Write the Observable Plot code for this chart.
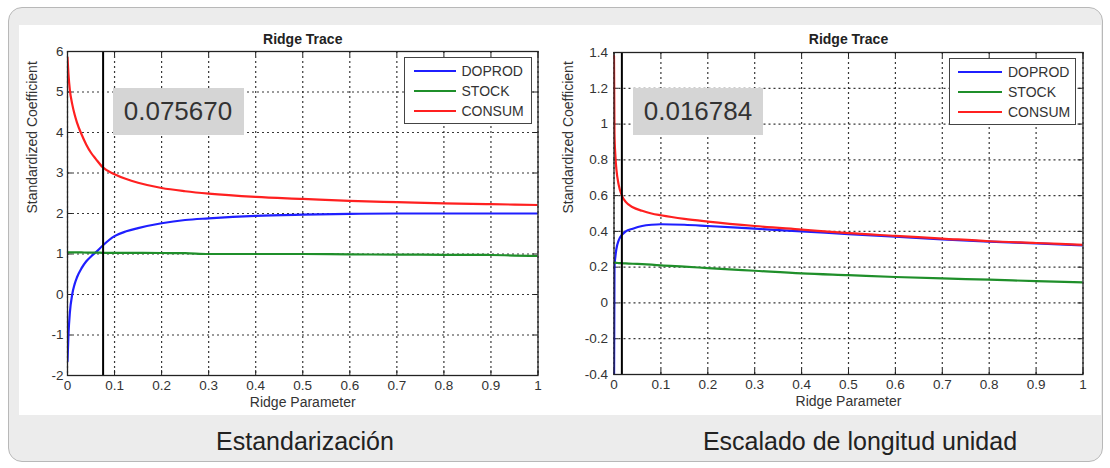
<!DOCTYPE html>
<html>
<head>
<meta charset="utf-8">
<script src="https://cdn.jsdelivr.net/npm/d3@7"></script>
<script src="https://cdn.jsdelivr.net/npm/@observablehq/plot@0.6"></script>
<style>
  html, body { margin: 0; padding: 0; background: #fff; }
  body { width: 1110px; height: 468px; position: relative; overflow: hidden;
         font-family: "Liberation Sans", Arial, Helvetica, sans-serif; }
  .abs { position: absolute; }
  .outer { left: 8px; top: 7px; width: 1095px; height: 455px; box-sizing: border-box;
           border: 1px solid #b8b8b8; border-radius: 14px; background: #ececec; }
  .band { left: 19px; top: 25px; width: 1082px; height: 390px; background: #fff; }
  .panel { top: 25px; }
  .valbox { background: #d5d5d5; color: #333; font-size: 26px; display: flex;
            align-items: center; justify-content: center; }
  .legend { background: #fff; border: 1px solid #444; box-sizing: border-box; }
  .legrow { position: absolute; left: 0; height: 16px; display: flex; align-items: center;
            font-size: 14px; color: #333; }
  .legline { height: 2px; margin-right: 6px; }
  .caption { font-size: 25px; line-height: 25px; color: #222; text-align: center; width: 500px; }
</style>
</head>
<body>
<div class="abs outer"></div>
<div class="abs band"></div>
<div id="root"></div>
<script>
// ---------------- data ----------------
const seriesNames  = ["DOPROD", "STOCK", "CONSUM"];
const seriesColors = ["#1f1fff", "#1f8f2a", "#ff2020"];
const xTicks = [0, 0.1, 0.2, 0.3, 0.4, 0.5, 0.6, 0.7, 0.8, 0.9, 1];

// Panel 1: Estandarización
const kStd = 0.075670;
const yTicksStd = [-2, -1, 0, 1, 2, 3, 4, 5, 6];
const lambdaStd = [0, 0.002, 0.005, 0.01, 0.015, 0.02, 0.03, 0.04, 0.05, 0.06, 0.075, 0.1, 0.125, 0.15, 0.2, 0.25, 0.3, 0.4, 0.5, 0.6, 0.7, 0.8, 0.9, 1];
const doprodStd = [-1.65, -1.0, -0.45, 0.0, 0.25, 0.42, 0.65, 0.82, 0.94, 1.04, 1.21, 1.44, 1.56, 1.64, 1.76, 1.84, 1.88, 1.94, 1.97, 1.99, 2.0, 2.0, 2.0, 2.0];
const stockStd  = [1.04, 1.04, 1.04, 1.04, 1.04, 1.04, 1.04, 1.035, 1.035, 1.035, 1.03, 1.03, 1.03, 1.03, 1.025, 1.02, 1.0, 1.0, 1.0, 0.99, 0.985, 0.98, 0.975, 0.95];
const consumStd = [5.85, 5.45, 5.05, 4.7, 4.45, 4.25, 3.95, 3.7, 3.5, 3.35, 3.14, 2.97, 2.85, 2.76, 2.63, 2.55, 2.49, 2.41, 2.36, 2.31, 2.28, 2.25, 2.23, 2.21];

// Panel 2: Escalado de longitud unidad
const kUnit = 0.016784;
const yTicksUnit = [-0.4, -0.2, 0, 0.2, 0.4, 0.6, 0.8, 1, 1.2, 1.4];
const lambdaUnit = [0, 0.001, 0.003, 0.005, 0.01, 0.0168, 0.025, 0.04, 0.06, 0.08, 0.1, 0.15, 0.2, 0.3, 0.4, 0.5, 0.6, 0.7, 0.8, 0.9, 1];
const doprodUnit = [-0.5, 0.2, 0.26, 0.3, 0.35, 0.38, 0.4, 0.415, 0.43, 0.437, 0.44, 0.437, 0.43, 0.415, 0.4, 0.385, 0.37, 0.355, 0.343, 0.333, 0.322];
const stockUnit  = [0.225, 0.225, 0.225, 0.224, 0.223, 0.222, 0.221, 0.219, 0.217, 0.214, 0.21, 0.203, 0.195, 0.18, 0.165, 0.155, 0.145, 0.137, 0.13, 0.122, 0.115];
const consumUnit = [1.38, 0.95, 0.82, 0.75, 0.66, 0.6, 0.565, 0.535, 0.515, 0.5, 0.49, 0.47, 0.455, 0.43, 0.41, 0.39, 0.375, 0.36, 0.345, 0.335, 0.325];

const captions = ["Estandarización", "Escalado de longitud unidad"];
const titleText = "Ridge Trace";
const xLabel = "Ridge Parameter";
const yLabel = "Standardized Coefficient";

// ---------------- drawing ----------------
const fmt = d => String(Math.round(d * 10) / 10);
const root = document.getElementById("root");

function panel(cfg) {
  const rows = [];
  cfg.xs.forEach((x, i) => {
    rows.push({x, y: cfg.dop[i], s: seriesNames[0]});
    rows.push({x, y: cfg.stk[i], s: seriesNames[1]});
    rows.push({x, y: cfg.con[i], s: seriesNames[2]});
  });
  const innerH = cfg.height - cfg.mT - cfg.mB;
  const innerW = cfg.width - cfg.mL - cfg.mR;
  const grid = {stroke: "#222", strokeOpacity: 0.9, strokeDasharray: "2,3", strokeWidth: 1.2};
  const svg = Plot.plot({
    width: cfg.width, height: cfg.height,
    marginLeft: cfg.mL, marginRight: cfg.mR, marginTop: cfg.mT, marginBottom: cfg.mB,
    style: {background: "transparent", fontFamily: "'Liberation Sans', Arial, sans-serif", fontSize: "13px", color: "#333", overflow: "visible"},
    x: {domain: [0, 1]},
    y: {domain: [cfg.yTicks[0], cfg.yTicks[cfg.yTicks.length - 1]]},
    color: {domain: seriesNames, range: seriesColors},
    marks: [
      Plot.ruleX(xTicks, {...grid}),
      Plot.ruleY(cfg.yTicks, {...grid}),
      Plot.ruleX(xTicks, {stroke: "#222", insetTop: innerH - 5}),
      Plot.ruleX(xTicks, {stroke: "#222", insetBottom: innerH - 5}),
      Plot.ruleY(cfg.yTicks, {stroke: "#222", insetRight: innerW - 5}),
      Plot.ruleY(cfg.yTicks, {stroke: "#222", insetLeft: innerW - 5}),
      Plot.line(rows, {x: "x", y: "y", z: "s", stroke: "s", strokeWidth: 2.2, curve: "monotone-x", clip: true}),
      Plot.ruleX([cfg.k], {stroke: "#000", strokeWidth: 2}),
      Plot.frame({stroke: "#222", strokeWidth: 1.3}),
      Plot.axisX(xTicks, {tickSize: 0, tickPadding: 5, tickFormat: fmt, label: null, fontSize: 13.5, fill: "#333"}),
      Plot.axisY(cfg.yTicks, {tickSize: 0, tickPadding: cfg.yPad, tickFormat: fmt, label: null, fontSize: 13.5, fill: "#333"}),
      Plot.text([titleText], {frameAnchor: "top", dy: -(cfg.mT - 9), fontWeight: "bold", fontSize: 14, fill: "#222"}),
      Plot.text([xLabel], {frameAnchor: "bottom", dy: 31, fontSize: 14, fill: "#333"}),
      Plot.text([yLabel], {frameAnchor: "left", dx: cfg.yLabelDx, rotate: -90, fontSize: 14, fill: "#333"})
    ]
  });
  svg.classList.add("abs", "panel");
  svg.style.left = cfg.left + "px";
  root.appendChild(svg);

  // value box
  const vb = document.createElement("div");
  vb.className = "abs valbox";
  Object.assign(vb.style, {left: cfg.box[0] + "px", top: cfg.box[1] + "px", width: cfg.box[2] + "px", height: cfg.box[3] + "px"});
  vb.textContent = cfg.k.toFixed(6);
  root.appendChild(vb);

  // legend
  const lg = document.createElement("div");
  lg.className = "abs legend";
  Object.assign(lg.style, {left: cfg.leg[0] + "px", top: cfg.leg[1] + "px", width: cfg.leg[2] + "px", height: cfg.leg[3] + "px"});
  seriesNames.forEach((name, i) => {
    const r = document.createElement("div");
    r.className = "legrow";
    r.style.top = (5 + i * 20) + "px";
    r.style.left = cfg.legPad + "px";
    const ln = document.createElement("div");
    ln.className = "legline";
    ln.style.width = cfg.legLine + "px";
    ln.style.background = seriesColors[i];
    const t = document.createElement("span");
    t.textContent = name;
    r.appendChild(ln); r.appendChild(t);
    lg.appendChild(r);
  });
  root.appendChild(lg);

  // caption
  const cap = document.createElement("div");
  cap.className = "abs caption";
  cap.style.left = (cfg.capX - 250) + "px";
  cap.style.top = "429px";
  cap.textContent = cfg.caption;
  root.appendChild(cap);
}

panel({
  xs: lambdaStd, dop: doprodStd, stk: stockStd, con: consumStd, yTicks: yTicksStd, k: kStd,
  left: 19, width: 540, height: 390, mL: 48, mR: 21.5, mT: 26, mB: 40, yPad: 4, yLabelDx: -35,
  box: [112.5, 88, 131, 47], leg: [403.5, 57, 128, 67], legPad: 9, legLine: 42,
  capX: 305, caption: captions[0]
});
panel({
  xs: lambdaUnit, dop: doprodUnit, stk: stockUnit, con: consumUnit, yTicks: yTicksUnit, k: kUnit,
  left: 560, width: 541, height: 390, mL: 53.5, mR: 18.5, mT: 27, mB: 41, yPad: 6, yLabelDx: -45.5,
  box: [633, 88, 130, 47], leg: [949, 58, 127, 67], legPad: 8, legLine: 44,
  capX: 860, caption: captions[1]
});
</script>
</body>
</html>
